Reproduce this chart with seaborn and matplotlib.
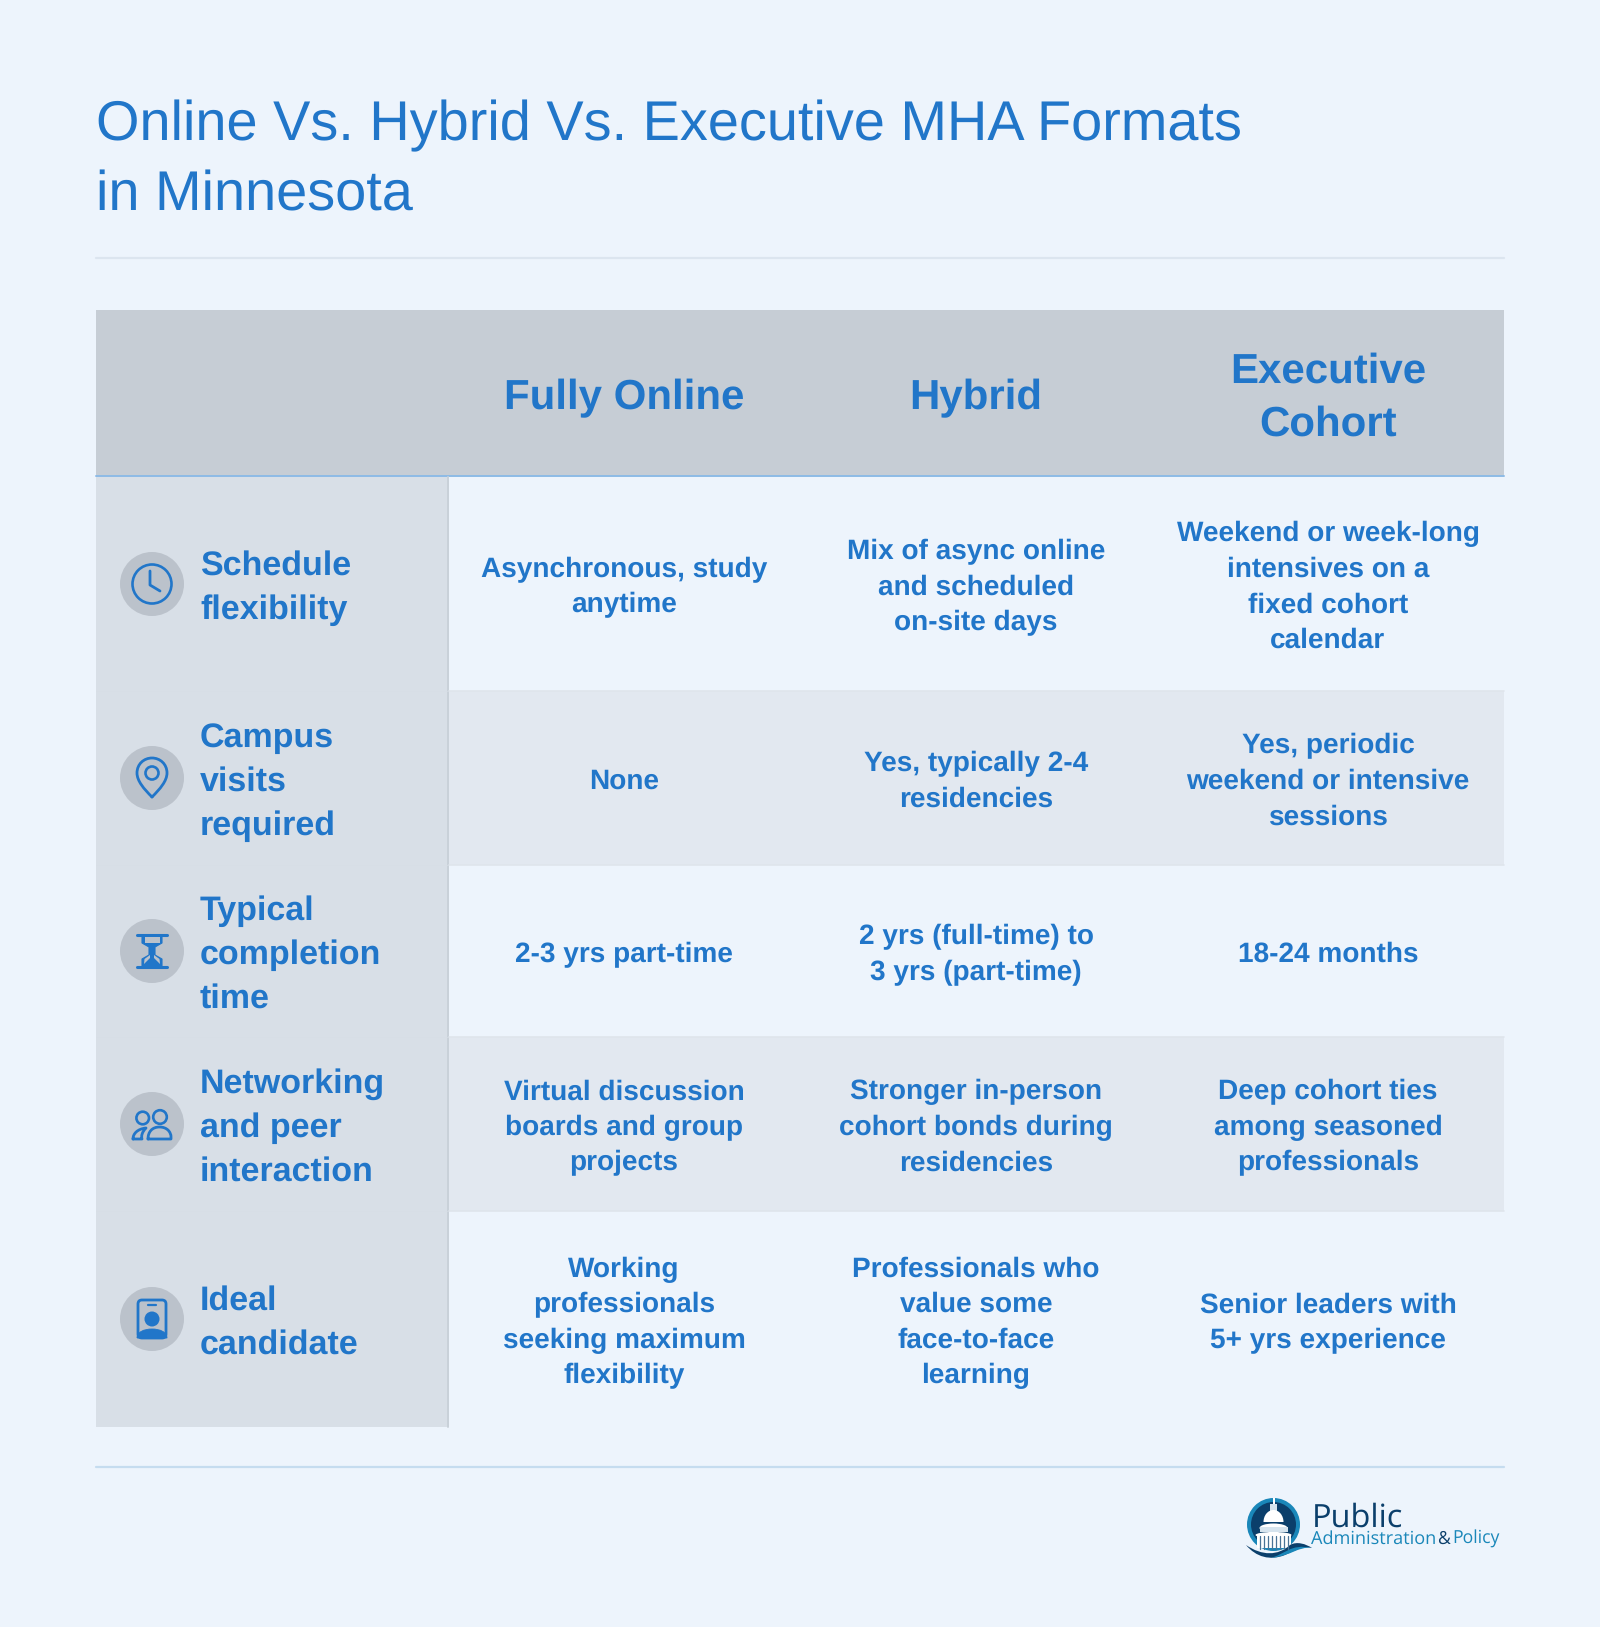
import numpy as np
import matplotlib
matplotlib.use("Agg")
import matplotlib.pyplot as plt
import seaborn as sns
from matplotlib.colors import ListedColormap
from matplotlib.patches import Circle, Ellipse, FancyBboxPatch, PathPatch, Rectangle
from matplotlib.path import Path

# table content
title_lines = "Online Vs. Hybrid Vs. Executive MHA Formats\nin Minnesota"
formats = ["Fully Online", "Hybrid", "Executive\nCohort"]
criteria = [
    "Schedule\nflexibility",
    "Campus\nvisits\nrequired",
    "Typical\ncompletion\ntime",
    "Networking\nand peer\ninteraction",
    "Ideal\ncandidate",
]
fully_online = [
    "Asynchronous, study\nanytime",
    "None",
    "2-3 yrs part-time",
    "Virtual discussion\nboards and group\nprojects",
    "Working\nprofessionals\nseeking maximum\nflexibility",
]
hybrid = [
    "Mix of async online\nand scheduled\non-site days",
    "Yes, typically 2-4\nresidencies",
    "2 yrs (full-time) to\n3 yrs (part-time)",
    "Stronger in-person\ncohort bonds during\nresidencies",
    "Professionals who\nvalue some\nface-to-face\nlearning",
]
executive = [
    "Weekend or week-long\nintensives on a\nfixed cohort\ncalendar",
    "Yes, periodic\nweekend or intensive\nsessions",
    "18-24 months",
    "Deep cohort ties\namong seasoned\nprofessionals",
    "Senior leaders with\n5+ yrs experience",
]

W, H = 1600, 1627
BLUE = "#2176C9"
BG = "#EDF4FC"
# header, sidebar, plain row, shaded row
TONES = ["#C6CDD5", "#D8DFE7", "#EDF4FC", "#E2E8F0"]
CIRCLE = "#BBC2CB"
row_edges = [310, 476, 691, 865, 1037, 1211, 1427]
icon_y = [584, 778, 951, 1124, 1319]
TABLE_L, TABLE_R = 96, 1504
SIDE_R = 448


def px(size):
    return size * 0.72


sns.set_theme(style="white", rc={"figure.facecolor": BG, "text.hinting": "no_hinting"})
plt.rcParams["font.family"] = ["Liberation Sans", "DejaVu Sans"]

fig = plt.figure(figsize=(W / 100, H / 100), dpi=100)
cmap = ListedColormap(TONES)


def row_axes(top, bottom):
    return fig.add_axes([TABLE_L / W, 1 - bottom / H, (TABLE_R - TABLE_L) / W, (bottom - top) / H])


def draw_row(top, bottom, tones, labels, size, spacing, nudge=3.8):
    ax = row_axes(top, bottom)
    sns.heatmap(
        np.array([tones]), ax=ax, cmap=cmap, vmin=-0.5, vmax=3.5, cbar=False,
        annot=np.array([labels], dtype=object), fmt="", xticklabels=False, yticklabels=False,
        annot_kws=dict(color=BLUE, fontsize=px(size), fontweight="bold", linespacing=spacing),
    )
    # annotations sit a little high with this font
    for t in ax.texts:
        x, y = t.get_position()
        t.set_position((x, y + nudge / (bottom - top)))


draw_row(row_edges[0], row_edges[1], [0, 0, 0, 0], [""] + formats, 42, 1.47, nudge=5.5)
for i in range(len(criteria)):
    tone = 3 if i % 2 == 1 else 2
    draw_row(row_edges[i + 1], row_edges[i + 2], [1, tone, tone, tone],
             ["", fully_online[i], hybrid[i], executive[i]], 28, 1.465)

# everything else goes on a full figure overlay in pixel units
ov = fig.add_axes([0, 0, 1, 1], zorder=5)
ov.set_xlim(0, W)
ov.set_ylim(H, 0)
ov.axis("off")
ov.patch.set_alpha(0)

ov.text(96, 140, title_lines.split("\n")[0], fontsize=px(55.85), color=BLUE, va="baseline")
ov.text(96, 210, title_lines.split("\n")[1], fontsize=px(55.85), color=BLUE, va="baseline")

ov.plot([96, 1504], [258, 258], color="#DCE5EF", lw=1.6)
ov.plot([96, 1504], [1467, 1467], color="#C5DCEF", lw=1.6)
ov.plot([96, 1504], [476, 476], color="#8DBBE6", lw=1.4)
ov.plot([SIDE_R, SIDE_R], [477, 1427], color="#C9D1D9", lw=1.4)
for y in row_edges[2:-1]:
    ov.plot([SIDE_R + 1, 1504], [y, y], color="#DFE5EC", lw=1.2)
    ov.plot([96, SIDE_R - 1], [y, y], color="#D7DEE6", lw=0.6)

for label, y in zip(criteria, icon_y):
    ov.text(200, y + 4, label, fontsize=px(34), fontweight="bold", color=BLUE, ha="left", va="center",
            linespacing=1.485)
    ov.add_patch(Circle((152, y), 32, fc=CIRCLE, ec="none"))


def stroke(verts, codes=None, fill=False, lw=2.0):
    ov.add_patch(PathPatch(Path(verts, codes), fc=BLUE if fill else "none", ec=BLUE, lw=lw,
                           capstyle="round", joinstyle="round"))


# clock
ov.add_patch(Circle((152, 584), 19.5, fc="none", ec=BLUE, lw=1.9))
stroke([(150, 571), (150, 585), (160, 591)])

# pin
y0 = 778
M, C4, L = Path.MOVETO, Path.CURVE4, Path.LINETO
stroke([(152, y0 + 19), (144, y0 + 11), (137, y0 + 3), (137, y0 - 5),
        (137, y0 - 14), (144, y0 - 20), (152, y0 - 20),
        (160, y0 - 20), (167, y0 - 14), (167, y0 - 5),
        (167, y0 + 3), (160, y0 + 11), (152, y0 + 19)],
       [M, C4, C4, C4, C4, C4, C4, C4, C4, C4, C4, C4, C4])
ov.add_patch(Circle((152, y0 - 5), 6.5, fc="none", ec=BLUE, lw=1.9))

# hourglass
y0 = 951
stroke([(137, y0 - 16), (167, y0 - 16)], lw=2.2)
stroke([(137, y0 + 16), (167, y0 + 16)], lw=2.2)
stroke([(142, y0 - 16), (142, y0 - 8), (149, y0 - 4), (149, y0), (149, y0 + 4), (142, y0 + 8), (142, y0 + 16),
        (162, y0 + 16), (162, y0 + 8), (155, y0 + 4), (155, y0), (155, y0 - 4), (162, y0 - 8), (162, y0 - 16),
        (142, y0 - 16)], fill=True, lw=0.8)
ov.add_patch(Rectangle((144.5, y0 - 14), 15, 6, fc=CIRCLE, ec="none"))
ov.add_patch(PathPatch(Path([(150, y0 + 4), (144.5, y0 + 8), (144, y0 + 13), (150, y0 + 7)]), fc=CIRCLE, ec="none"))
ov.add_patch(PathPatch(Path([(154, y0 + 4), (159.5, y0 + 8), (160, y0 + 13), (154, y0 + 7)]), fc=CIRCLE, ec="none"))

# people
y0 = 1124
ov.add_patch(Circle((142.7, y0 - 6), 6.3, fc="none", ec=BLUE, lw=1.9))
ov.add_patch(Circle((160, y0 - 7), 6.8, fc="none", ec=BLUE, lw=1.9))
stroke([(148, y0 + 15), (148, y0 + 8), (152, y0 + 3), (159.5, y0 + 3), (167, y0 + 3), (171, y0 + 8), (171, y0 + 13),
        (171, y0 + 15), (148, y0 + 15)], [M, C4, C4, C4, C4, C4, C4, L, L])
stroke([(133, y0 + 15), (133, y0 + 10), (137, y0 + 5), (146, y0 + 4), (142, y0 + 8), (141, y0 + 12), (142, y0 + 15),
        (133, y0 + 15)], [M, C4, C4, C4, C4, C4, C4, L])

# id badge
y0 = 1319
ov.add_patch(FancyBboxPatch((138, y0 - 19), 28, 38, boxstyle="round,pad=0,rounding_size=4", fc="none", ec=BLUE, lw=2))
stroke([(148, y0 - 14), (156, y0 - 14)], lw=1.6)
ov.add_patch(Circle((152, y0), 7.5, fc=BLUE, ec="none"))
ov.add_patch(PathPatch(Path([(137, y0 + 19), (137, y0 + 13), (144, y0 + 10), (152, y0 + 10), (160, y0 + 10),
                             (167, y0 + 13), (167, y0 + 19), (137, y0 + 19)], [M, C4, C4, C4, C4, C4, C4, L]),
                       fc=BLUE, ec=BLUE, lw=0.6))

# logo
NAVY, TEAL = "#0B3F6B", "#1A87B9"
cx = 1273.5
ov.add_patch(Circle((cx, 1524.5), 26.5, fc=TEAL, ec="none"))
ov.add_patch(Circle((cx, 1524.5), 22.5, fc=NAVY, ec="none"))
ov.add_patch(Rectangle((cx - 1, 1498), 2, 10, fc="white", ec="none"))
ov.add_patch(Rectangle((cx - 3.5, 1504), 7, 7, fc="#D6E4EE", ec="none"))
ov.add_patch(Ellipse((cx, 1522), 20, 24, fc="white", ec="none"))
ov.add_patch(Rectangle((cx - 14, 1522), 28, 2.5, fc=NAVY, ec="none"))
ov.add_patch(Ellipse((cx, 1528), 28, 9, fc="white", ec="none"))
ov.add_patch(Rectangle((cx - 14, 1527), 28, 5, fc="#D6E4EE", ec="none"))
ov.add_patch(Ellipse((cx, 1535), 36, 6, fc="white", ec="none"))
ov.add_patch(Rectangle((cx - 17, 1535), 34, 13, fc="white", ec="none"))
for x in np.arange(cx - 14, cx + 16, 4):
    ov.plot([x, x], [1536, 1549], color="#4A7396", lw=0.9)
ov.add_patch(PathPatch(Path([(1244, 1538), (1262, 1556), (1285, 1552), (1300, 1537), (1310, 1552), (1250, 1566),
                             (1244, 1538)]), fc=BG, ec="none"))
wave = [(1246, 1545), (1262, 1556), (1278, 1556), (1290, 1545), (1297, 1541), (1306, 1544), (1312, 1548),
        (1302, 1546), (1296, 1550), (1285, 1555), (1270, 1561), (1256, 1557), (1246, 1545)]
ov.add_patch(PathPatch(Path(wave, [M] + [C4] * 12), fc=NAVY, ec="none"))
ov.add_patch(PathPatch(Path([(1270, 1558), (1285, 1555), (1290, 1543), (1312, 1548), (1298, 1546), (1292, 1556),
                             (1270, 1558)], [M, C4, C4, C4, C4, C4, C4]), fc=TEAL, ec="none"))

ov.text(1312, 1527, "Public", family="Open Sans", fontsize=px(32.5), color=NAVY, va="baseline")
ov.text(1311, 1544, "Administration", family="Open Sans", fontsize=px(18.1), color=TEAL, va="baseline")
ov.text(1437, 1544, "&", family="Open Sans", fontsize=px(17.6), color=NAVY, va="baseline")
ov.text(1452, 1544, "Policy", family="Open Sans", fontsize=px(17.6), color=TEAL, va="baseline")

fig.savefig("out.png", dpi=100, facecolor=BG)
